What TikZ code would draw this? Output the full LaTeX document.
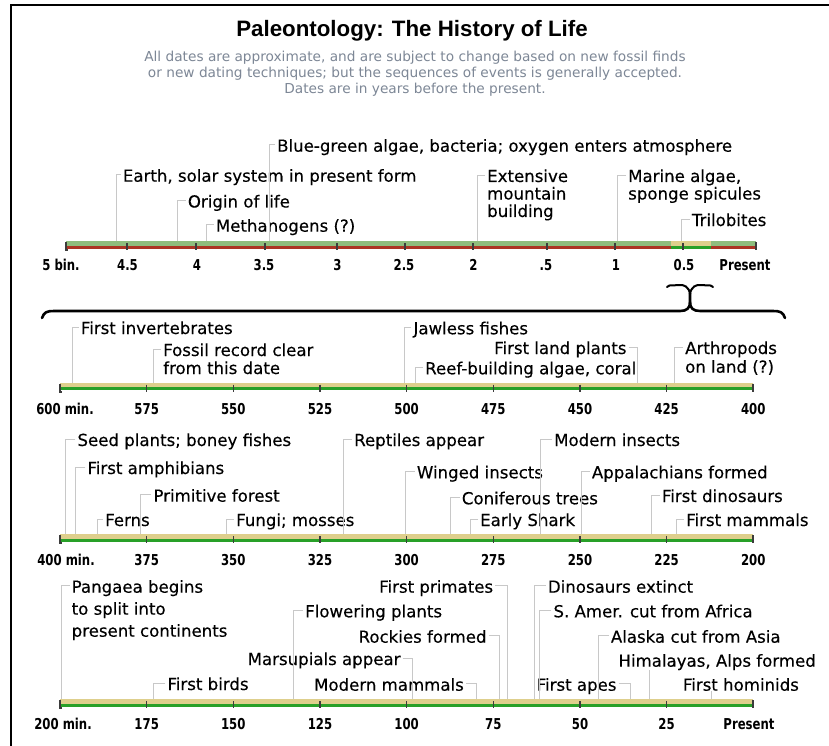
\documentclass[tikz,border=0pt]{standalone}
\usepackage{fontspec}
\setmainfont{DejaVu Sans}
\newfontfamily\labfam[FakeBold=0.3]{DejaVu Sans}
\newfontfamily\subfam{DejaVu Sans}
\newfontfamily\tickfam[FakeStretch=0.78]{DejaVu Sans}
\newfontfamily\titlefam{Liberation Sans}
\newcommand\labfont{\labfam\fontsize{16.6}{17.5}\selectfont}
\newcommand\tickfont{\tickfam\bfseries\fontsize{15}{15}\selectfont}
\newcommand\mlines[2]{\vtop{\baselineskip=#1pt\relax\lineskiplimit=-100pt #2}}
\definecolor{barGreen}{RGB}{143,189,125}
\definecolor{barRed}{RGB}{172,52,36}
\definecolor{barTan}{RGB}{222,207,140}
\definecolor{lineGreen}{RGB}{40,160,40}
\definecolor{leadgray}{RGB}{200,200,200}
\definecolor{tickgray}{RGB}{60,60,60}
\definecolor{subgray}{RGB}{125,135,150}
\begin{document}
\begin{tikzpicture}[x=1pt,y=-1pt,
  lab/.style={font=\labfont, inner sep=0pt, anchor=base west},
  labr/.style={font=\labfont, inner sep=0pt, anchor=base east},
  leader/.style={draw=leadgray, line width=0.9pt},
  tickmark/.style={draw=tickgray, line width=1.3pt},
  endmark/.style={draw=tickgray, line width=2pt},
  ticklab/.style={font=\tickfont, inner sep=0pt, anchor=base},
  bracket/.style={draw=black, line width=2.6pt, line cap=round, line join=round},
  frame/.style={draw=black, line width=2pt}]
\useasboundingbox (0,0) rectangle (829,746);
\fill[white] (0,0) rectangle (829,746);
\draw[frame] (11,746) -- (11,5) -- (829,5);

% title
\node[font=\titlefam\bfseries\fontsize{22.3}{22}\selectfont, anchor=base, inner sep=0pt] (title) at (412,37) {Paleontology: The History of Life};
\node[font=\subfam\fontsize{13.7}{15.6}\selectfont, text=subgray, anchor=base, inner sep=0pt] (sub) at (415,62)
 {\begin{tabular}[t]{@{}c@{}}All dates are approximate, and are subject to change based on new fossil finds\\
 or new dating techniques; but the sequences of events is generally accepted.\\
 Dates are in years before the present.\end{tabular}};

% ---------- bars ----------
% row 1
\fill[barGreen] (66,241) rectangle (756,246.3);
\fill[barRed] (66,246.3) rectangle (756,248.5);
\fill[barTan] (670.7,241) rectangle (710.7,246.3);
\fill[lineGreen] (670.7,246.3) rectangle (710.7,248.5);
\foreach \x in {127,196,265,337,405,473,547,615,683}
  \draw[tickmark] (\x,243) -- (\x,250);
\draw[endmark] (66,242) -- (66,250) -- (68,250);
\draw[endmark] (756,242) -- (756,250);
% rows 2-4
\foreach \T in {382.7,534.3,699.3}{
  \fill[barTan] (60,\T) rectangle (753.3,\T+4.7);
  \fill[lineGreen] (60,\T+4.7) rectangle (753.3,\T+7.3);
  \foreach \x in {146.7,233.3,320,406.6,493.3,580,666.6}
    \draw[tickmark] (\x,\T+2) -- (\x,\T+9);
  \draw[endmark] (60,\T+1) -- (60,\T+9) -- (62,\T+9);
  \draw[endmark] (753.3,\T+1) -- (753.3,\T+9);
}

% tick labels
\foreach \x/\t [count=\i] in {61/5 bin.,127.5/4.5,197/4,264/3.5,337.5/3,404/2.5,473.5/2,546/.5,616/1,684/0.5,745/Present}
  \node[ticklab] (ta\i) at (\x,270) {\t};
\foreach \x/\t [count=\i] in {65/600 min.,146.7/575,233.3/550,320/525,406.6/500,493.3/475,580/450,666.6/425,753.3/400}
  \node[ticklab] (tb\i) at (\x,414) {\t};
\foreach \x/\t [count=\i] in {66/400 min.,146.7/375,233.3/350,320/325,406.6/300,493.3/275,580/250,666.6/225,753.3/200}
  \node[ticklab] (tc\i) at (\x,565) {\t};
\foreach \x/\t [count=\i] in {63/200 min.,146.7/175,233.3/150,320/125,406.6/100,493.3/75,580/50,666.6/25,749/Present}
  \node[ticklab] (td\i) at (\x,729) {\t};

% bracket
\draw[bracket] (42,318) .. controls (44,312) and (47,311) .. (54,311) -- (680,311)
  .. controls (687,311) and (690,308) .. (690,302) -- (690,293);
\draw[bracket] (785,318) .. controls (783,312) and (780,311) .. (773,311) -- (700,311)
  .. controls (693,311) and (690,308) .. (690,302);
\draw[draw=black, line width=2pt, line cap=round] (690,294) .. controls (689,287) and (684,284) .. (678,285) .. controls (673,286) and (670,284) .. (667,287);
\draw[draw=black, line width=2pt, line cap=round] (690,294) .. controls (691,287) and (696,284) .. (702,285) .. controls (707,286) and (710,284) .. (713,287);

% ---------- row 1 labels ----------
\node[lab] (blue) at (277,151.7) {Blue-green algae, bacteria; oxygen enters atmosphere};
\node[lab] (earth) at (122.7,181.7) {Earth, solar system in present form};
\node[lab] (origin) at (187.7,207.5) {Origin of life};
\node[lab] (meth) at (215.7,231.7) {Methanogens (?)};
\node[lab] (ext) at (487,182) {\mlines{17.5}{\hbox{Extensive}\hbox{mountain}\hbox{building}}};
\node[lab] (marine) at (628,182) {\mlines{17.5}{\hbox{Marine algae,}\hbox{sponge spicules}}};
\node[lab] (trilo) at (691.7,226) {Trilobites};

\coordinate (blue-b) at (269,241);
\coordinate (earth-b) at (116,241);
\coordinate (origin-b) at (177,241);
\coordinate (meth-b) at (206.7,241);
\coordinate (ext-b) at (477,241);
\coordinate (marine-b) at (617,241);
\coordinate (trilo-b) at (681.7,241);
\foreach \n in {blue,earth,origin,meth,ext,marine,trilo}
  \draw[leader] ([xshift=-2pt,yshift=7pt]\n.base west) -| (\n-b);

% ---------- row 2 labels ----------
\node[lab] (inv) at (80.7,334) {First invertebrates};
\node[lab] (fossil) at (163,356) {\mlines{18}{\hbox{Fossil record clear}\hbox{from this date}}};
\node[lab] (jaw) at (413.3,334.3) {Jawless fishes};
\node[lab] (reef) at (425,374.3) {Reef-building algae, coral};
\node[labr] (land) at (626.7,354) {First land plants};
\node[lab] (arth) at (685,354) {\mlines{18.7}{\hbox{Arthropods}\hbox{on land (?)}}};

\coordinate (inv-b) at (72.7,382.7);
\coordinate (fossil-b) at (153.3,382.7);
\coordinate (jaw-b) at (404,382.7);
\coordinate (reef-b) at (415,382.7);
\coordinate (land-b) at (637.3,382.7);
\coordinate (arth-b) at (674,382.7);
\foreach \n in {inv,fossil,jaw,reef,arth}
  \draw[leader] ([xshift=-2pt,yshift=7pt]\n.base west) -| (\n-b);
\draw[leader] ([xshift=2pt,yshift=7pt]land.base east) -| (land-b);

% ---------- row 3 labels ----------
\node[lab] (seed) at (77.3,446) {Seed plants; boney fishes};
\node[lab] (amph) at (87.3,474) {First amphibians};
\node[lab] (prim) at (153.3,501.7) {Primitive forest};
\node[lab] (ferns) at (105,526) {Ferns};
\node[lab] (fungi) at (236,526) {Fungi; mosses};
\node[lab] (rept) at (354,446) {Reptiles appear};
\node[lab] (wing) at (416.7,478.3) {Winged insects};
\node[lab] (conif) at (461.7,504.3) {Coniferous trees};
\node[lab] (shark) at (480,526) {Early Shark};
\node[lab] (minsect) at (554,446) {Modern insects};
\node[lab] (appal) at (591.7,478.3) {Appalachians formed};
\node[lab] (fdino) at (661.7,502) {First dinosaurs};
\node[lab] (fmam) at (686,526) {First mammals};

\coordinate (seed-b) at (65,534.3);
\coordinate (amph-b) at (75,534.3);
\coordinate (prim-b) at (140.7,534.3);
\coordinate (ferns-b) at (97.3,534.3);
\coordinate (fungi-b) at (226.7,534.3);
\coordinate (rept-b) at (343.3,534.3);
\coordinate (wing-b) at (405,534.3);
\coordinate (conif-b) at (450,534.3);
\coordinate (shark-b) at (470,534.3);
\coordinate (minsect-b) at (540,534.3);
\coordinate (appal-b) at (581.7,534.3);
\coordinate (fdino-b) at (651.7,534.3);
\coordinate (fmam-b) at (676,534.3);
\foreach \n in {seed,amph,prim,ferns,fungi,rept,wing,conif,shark,minsect,appal,fdino,fmam}
  \draw[leader] ([xshift=-2pt,yshift=7pt]\n.base west) -| (\n-b);

% ---------- row 4 labels ----------
\node[lab] (pang) at (71.5,592.7) {\mlines{22}{\hbox{Pangaea begins}\hbox{to split into}\hbox{present continents}}};
\node[lab] (flow) at (305,617.3) {Flowering plants};
\node[lab] (birds) at (167.3,690) {First birds};
\node[labr] (mars) at (400.7,665) {Marsupials appear};
\node[labr] (mmam) at (464,690.7) {Modern mammals};
\node[labr] (fprim) at (493.3,592.7) {First primates};
\node[labr] (rock) at (486.7,642.7) {Rockies formed};
\node[lab] (dext) at (547.7,592.7) {Dinosaurs extinct};
\node[lab] (samer) at (553.3,617.3) {S. Amer. cut from Africa};
\node[lab] (alaska) at (610.7,642.7) {Alaska cut from Asia};
\node[lab] (hima) at (618.3,666.7) {Himalayas, Alps formed};
\node[labr] (apes) at (616.7,690.7) {First apes};
\node[lab] (homin) at (682.7,690.7) {First hominids};

\coordinate (pang-b) at (61.7,699.3);
\coordinate (flow-b) at (293.3,699.3);
\coordinate (birds-b) at (153.3,699.3);
\coordinate (mars-b) at (412.7,699.3);
\coordinate (mmam-b) at (476,699.3);
\coordinate (fprim-b) at (507.3,699.3);
\coordinate (rock-b) at (499.3,699.3);
\coordinate (dext-b) at (534,699.3);
\coordinate (samer-b) at (539.3,699.3);
\coordinate (alaska-b) at (598.3,699.3);
\coordinate (hima-b) at (649.3,699.3);
\coordinate (apes-b) at (630,699.3);
\coordinate (homin-b) at (711.7,699.3);
\foreach \n in {pang,flow,birds,dext,samer,alaska}
  \draw[leader] ([xshift=-2pt,yshift=7pt]\n.base west) -| (\n-b);
\foreach \n in {mars,mmam,fprim,rock,apes}
  \draw[leader] ([xshift=2pt,yshift=7pt]\n.base east) -| (\n-b);
\draw[leader] (hima-b) -- (hima-b |- hima.south);
\draw[leader] (homin-b) -- (homin-b |- homin.south);
\end{tikzpicture}
\end{document}
